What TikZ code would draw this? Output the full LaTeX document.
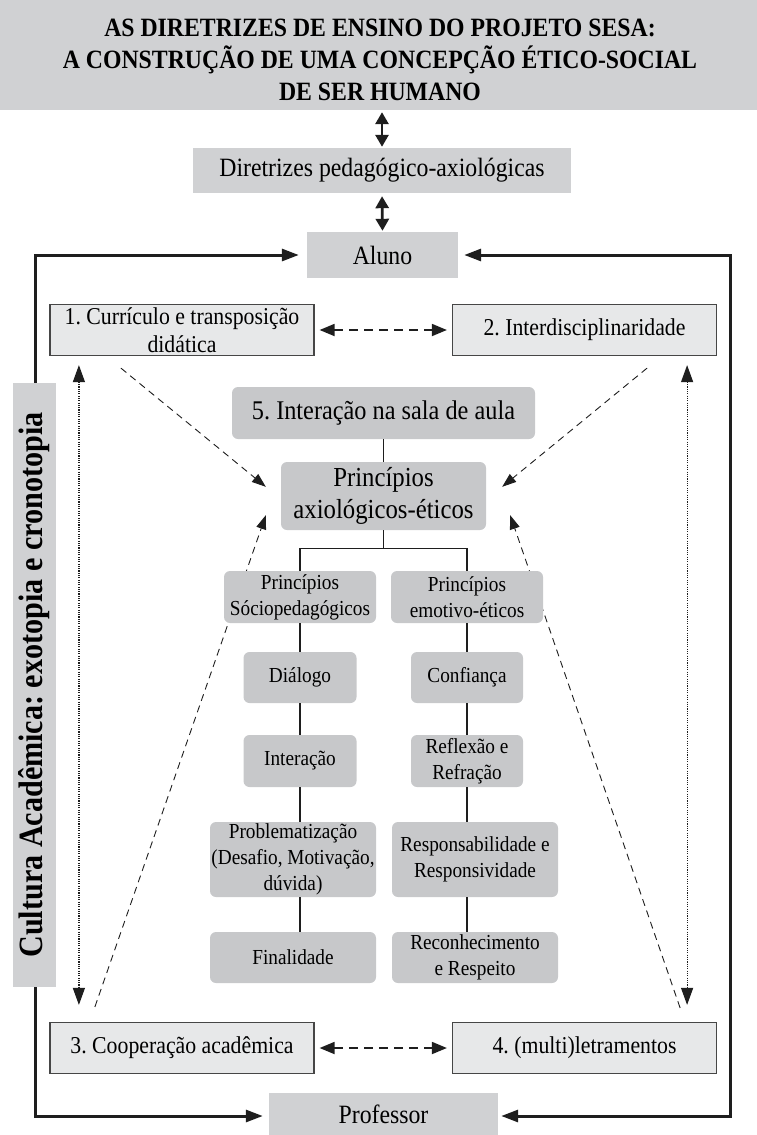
\documentclass[tikz,border=0pt]{standalone}
\usepackage{fontspec}
\setmainfont[FakeStretch=0.9]{Liberation Serif}
\usetikzlibrary{arrows.meta,calc}
\definecolor{gtitle}{RGB}{208,209,211}
\definecolor{gbox}{RGB}{199,200,202}
\definecolor{glight}{RGB}{231,232,233}
\definecolor{gline}{RGB}{30,30,30}
\definecolor{gborder}{RGB}{70,70,70}
\frenchspacing
\begin{document}
\begin{tikzpicture}[x=1pt,y=-1pt,
  flat/.style={fill=gtitle,inner sep=0pt,align=center,font=\fontsize{26.4}{30}\selectfont},
  numbox/.style={fill=glight,draw=gborder,line width=1.2pt,minimum width=264pt,minimum height=51pt,inner sep=0pt,align=center,font=\fontsize{24.2}{28}\selectfont},
  rbox/.style={fill=gbox,rounded corners=6pt,inner sep=0pt,align=center},
  small/.style={rbox,font=\fontsize{21.4}{26}\selectfont},
  dbl/.style={draw=gline,line width=2.8pt,{Triangle[length=12pt,width=13pt]}-{Triangle[length=12pt,width=13pt]}},
  loopline/.style={draw=gline,line width=3pt,{Triangle[length=17pt,width=12pt]}-{Triangle[length=17pt,width=12pt]}},
  dasharrow/.style={draw=gline,line width=1.8pt,dash pattern=on 9pt off 6pt,{Triangle[length=15pt,width=12pt]}-{Triangle[length=15pt,width=12pt]}},
  dotarrow/.style={draw=gline,line width=1.2pt,dash pattern=on 1.1pt off 1.2pt,{Triangle[length=17pt,width=12pt]}-{Triangle[length=17pt,width=12pt]}},
  diag/.style={draw=gline,line width=0.9pt,dash pattern=on 7pt off 5pt,-{Triangle[length=14pt,width=10pt]}},
  tree/.style={draw=gline,line width=1.2pt}]
\useasboundingbox (0,0) rectangle (757,1135);

% title
\node[fill=gtitle,minimum width=757pt,minimum height=110pt,inner sep=0pt] (T) at (378.5,55) {};
\node[align=center,inner sep=0pt,font=\bfseries\fontsize{26.4}{32}\selectfont] (Tt) at (380,60)
  {AS DIRETRIZES DE ENSINO DO PROJETO SESA:\\A CONSTRUÇÃO DE UMA CONCEPÇÃO ÉTICO-SOCIAL\\DE SER HUMANO};

\node[flat,minimum width=378pt,minimum height=45pt] (D) at (382,170.5) {Diretrizes pedagógico-axiológicas};
\node[flat,minimum width=151pt,minimum height=46pt] (A) at (382.5,255) {Aluno};
\node[flat,minimum width=229pt,minimum height=42pt] (P) at (383.5,1114) {Professor};

\draw[dbl,shorten <=2pt,shorten >=1pt] (D.north |- T.south) -- (D.north);
\draw[dbl,shorten <=3pt,shorten >=1pt] (D.south) -- (A.north);

% loop
\coordinate (LB) at (35,1116);
\coordinate (RB) at (730,1116);
\draw[loopline,shorten <=8pt,shorten >=6pt] (A.west) -| (LB) -- (LB -| P.west);
\draw[loopline,shorten <=6pt,shorten >=3pt] (A.east) -| (RB) -- (RB -| P.east);

% side label
\node[fill=gtitle,rotate=90,minimum width=604pt,minimum height=43pt,inner sep=0pt] (S) at (34.5,685)
  {\scalebox{0.985}[1]{\bfseries\fontsize{34}{40}\selectfont Cultura Acadêmica: exotopia e cronotopia}};

% numbered boxes
\node[numbox] (B1) at (182,330) {1. Currículo e transposição\\didática};
\node[numbox] (B2) at (584.5,330) {2. Interdisciplinaridade};
\node[numbox] (B3) at (182,1048) {3. Cooperação acadêmica};
\node[numbox] (B4) at (584.5,1048) {4. (multi)letramentos};

\draw[dasharrow,shorten <=5pt,shorten >=5pt] (B1) -- (B2);
\draw[dasharrow,shorten <=5pt,shorten >=5pt] (B3) -- (B4);

\draw[dotarrow,shorten <=9pt,shorten >=17pt] ([xshift=29.5pt]B1.south west) -- ([xshift=29.5pt]B3.north west);
\draw[dotarrow,shorten <=9pt,shorten >=17pt] ([xshift=-30pt]B2.south east) -- ([xshift=-30pt]B4.north east);

% central boxes
\node[rbox,font=\fontsize{27}{30}\selectfont,minimum width=303pt,minimum height=52pt] (I5) at (383.5,413) {5. Interação na sala de aula};
\node[rbox,font=\fontsize{27.5}{32}\selectfont,minimum width=205pt,minimum height=68pt] (PA) at (383.5,496) {Princípios\\axiológicos-éticos};

% diagonal dashed arrows (drawn under the boxes)
\coordinate (d1s) at ($(B1.south west)+(71.5,12)$);
\coordinate (d1e) at ($(PA.north west)+(-15,25)$);
\coordinate (d2s) at ($(B2.south east)+(-70,12)$);
\coordinate (d2e) at ($(PA.north east)+(16,25)$);
\coordinate (d3s) at ($(B3.north west)+(45.5,-15)$);
\coordinate (d3e) at ($(PA.south west)+(-15,-15)$);
\coordinate (d4s) at ($(B4.north east)+(-37,-14)$);
\coordinate (d4e) at ($(PA.south east)+(24,-15)$);
\draw[diag] (d1s) -- (d1e);
\draw[diag] (d2s) -- (d2e);
\draw[diag] (d3s) -- (d3e);
\draw[diag] (d4s) -- (d4e);

\node[small,minimum width=152pt,minimum height=52pt] (SO) at (300,597) {Princípios\\Sóciopedagógicos};
\node[small,minimum width=152pt,minimum height=52pt] (EM) at (467,597) {Princípios\\emotivo-éticos};
\node[small,minimum width=113pt,minimum height=51pt] (DI) at (300,677.5) {Diálogo};
\node[small,minimum width=112pt,minimum height=51pt] (CF) at (467,677.5) {Confiança};
\node[small,minimum width=113pt,minimum height=52pt] (IN) at (300,761) {Interação};
\node[small,minimum width=112pt,minimum height=52pt] (RF) at (467,761) {Reflexão e\\Refração};
\node[small,minimum width=166pt,minimum height=75pt] (PR) at (293,859.5) {Problematização\\(Desafio, Motivação,\\dúvida)};
\node[small,minimum width=166pt,minimum height=75pt] (RS) at (475,859.5) {Responsabilidade e\\Responsividade};
\node[small,minimum width=166pt,minimum height=51pt] (FI) at (293,957.5) {Finalidade};
\node[small,minimum width=166pt,minimum height=51pt] (RC) at (475,957.5) {Reconhecimento\\e Respeito};

% tree lines
\coordinate (J) at ($(PA.south)+(0,18)$);
\draw[tree] (I5.south) -- (PA.north);
\draw[tree] (PA.south) -- (J);
\draw[tree] (SO.north) |- (J) -| (EM.north);
\draw[tree] (SO.south) -- (DI.north);
\draw[tree] (DI.south) -- (IN.north);
\draw[tree] (IN.south) -- (IN.south |- PR.north);
\draw[tree] (PR.south -| IN.south) -- (FI.north -| IN.south);
\draw[tree] (EM.south) -- (CF.north);
\draw[tree] (CF.south) -- (RF.north);
\draw[tree] (RF.south) -- (RF.south |- RS.north);
\draw[tree] (RS.south -| RF.south) -- (RC.north -| RF.south);
\end{tikzpicture}
\end{document}
